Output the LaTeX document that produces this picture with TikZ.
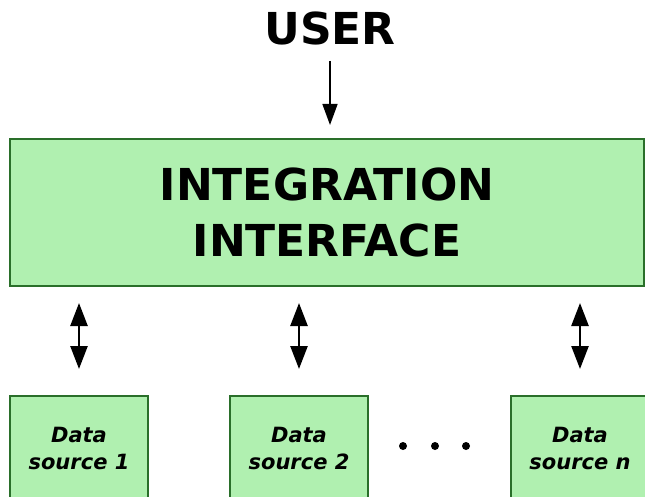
\documentclass[tikz,border=0pt]{standalone}
\usepackage{fontspec}
\setmainfont{DejaVu Sans}
\usetikzlibrary{arrows.meta}
\definecolor{boxfill}{HTML}{B0F0B0}
\definecolor{boxline}{HTML}{2A6F2A}
\begin{document}
\begin{tikzpicture}[x=1pt,y=-1pt,
  box/.style={draw=boxline,fill=boxfill,line width=2pt,inner sep=0pt},
  src/.style={box,minimum width=138pt,minimum height=104pt,align=center,font=\fontsize{21}{27}\selectfont\bfseries\itshape},
  dblarrow/.style={line width=2.5pt,{Triangle[length=23pt,width=17pt]}-{Triangle[length=23pt,width=17pt]},shorten <=16pt,shorten >=26pt},
  userarrow/.style={line width=1.5pt,-{Triangle[length=21pt,width=15pt]},shorten <=15pt,shorten >=13pt},
  dot/.style={circle,fill=black,inner sep=0pt,minimum size=8pt}
]
\useasboundingbox (0,0) rectangle (645,497);
\clip (0,0) rectangle (645,497);
\node[anchor=base,inner sep=0pt,font=\fontsize{44}{56}\selectfont\bfseries] (user) at (330,45) {USER};
\node[box,minimum width=634pt,minimum height=147pt,align=center,font=\fontsize{44}{56}\selectfont\bfseries] (integ) at (327,212.5) {INTEGRATION\\INTERFACE};
\node[src] (s1) at (79,448) {Data\\source 1};
\node[src] (s2) at (299,448) {Data\\source 2};
\node[src] (sn) at (580,448) {Data\\source n};
\node[dot] (d1) at (403,446) {};
\node[dot] (d2) at (435,446) {};
\node[dot] (d3) at (466,446) {};
\draw[userarrow] (user.south) -- (user.south |- integ.north);
\draw[dblarrow] (s1.north |- integ.south) -- (s1.north);
\draw[dblarrow] (s2.north |- integ.south) -- (s2.north);
\draw[dblarrow] (sn.north |- integ.south) -- (sn.north);
\end{tikzpicture}
\end{document}
